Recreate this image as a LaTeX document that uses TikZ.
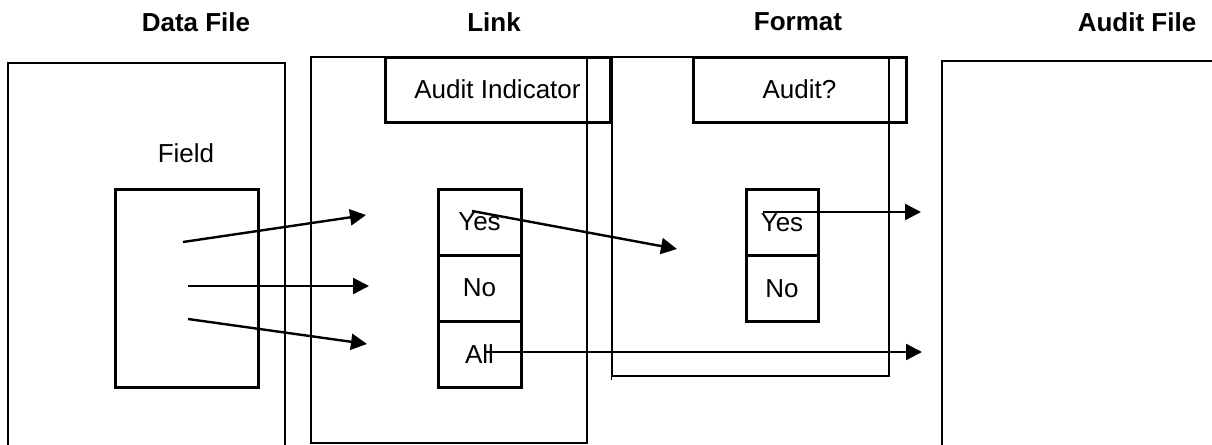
\documentclass[tikz,border=0pt]{standalone}
\usepackage{fontspec}
\setmainfont{Liberation Sans}
\usetikzlibrary{arrows.meta}
\begin{document}
\begin{tikzpicture}[x=0.5pt,y=-0.5pt,
  thin frame/.style={draw=black,line width=0.6pt},
  thick box/.style={draw=black,line width=1.5pt,inner sep=0pt},
  frame box/.style={draw=black,line width=0.6pt,inner sep=0pt},
  cell/.style={thick box,minimum width=41.5pt,minimum height=33pt,font=\fontsize{13}{15}\selectfont},
  fcell/.style={thick box,minimum width=36pt,minimum height=33pt,font=\fontsize{13}{15}\selectfont},
  label text/.style={font=\fontsize{13}{15}\selectfont,inner sep=0pt},
  title/.style={font=\fontsize{13}{15}\selectfont\bfseries,inner sep=0pt},
  arr/.style={line width=1.2pt,-{Triangle[length=8pt,width=8pt]}}]
\useasboundingbox (0,0) rectangle (1212,445);
% titles
\node[title] (tdata) at (196,22) {Data File};
\node[title] (tlink) at (494,22) {Link};
\node[title] (tformat) at (798,22) {Format};
\node[title] (taudit) at (1137,22) {Audit File};
% open frames
\draw[thin frame] (8,446) -- (8,63) -- (285,63) -- (285,446);
\draw[thin frame] (942,446) -- (942,61) -- (1213,61);
% link and format frames
\node[frame box,minimum width=138pt,minimum height=193pt] (linkframe) at (449,250) {};
\node[frame box,minimum width=138.5pt,minimum height=159.5pt] (formatframe) at (750.5,216.5) {};
\draw[thin frame] (formatframe.south west) -- ++(0,3);
% header boxes
\node[thick box,minimum width=112.5pt,minimum height=32.5pt,font=\fontsize{13}{15}\selectfont] (auditind) at (497.5,89.5) {Audit Indicator};
\node[thick box,minimum width=106.5pt,minimum height=32.5pt,font=\fontsize{13}{15}\selectfont] (auditq) at (799.5,89.5) {Audit?};
% field
\node[label text] (fieldlbl) at (186,153) {Field};
\node[thick box,minimum width=71.5pt,minimum height=99pt] (field) at (186.5,288) {};
% link cells
\node[cell] (lyes) at (479.5,222) {Yes};
\node[cell] (lno) at (479.5,288) {No};
\node[cell] (lall) at (479.5,354) {All};
% format cells
\node[fcell] (fyes) at (782,222.5) {Yes};
\node[fcell] (fno) at (782,288.5) {No};
% arrow coordinates
\coordinate (a1s) at (183,242);
\coordinate (a1e) at (366,215);
\coordinate (a2s) at (188,286);
\coordinate (a2e) at (369,286);
\coordinate (a3s) at (188,319);
\coordinate (a3e) at (367,344);
\coordinate (a4s) at (472,211);
\coordinate (a4e) at (677,249);
\coordinate (a5s) at (485,352);
\coordinate (a5e) at (922,352);
\coordinate (a6s) at (763,212);
\coordinate (a6e) at (921,212);
\draw[arr] (a1s) -- (a1e);
\draw[arr] (a2s) -- (a2e);
\draw[arr] (a3s) -- (a3e);
\draw[arr] (a4s) -- (a4e);
\draw[arr] (a5s) -- (a5e);
\draw[arr] (a6s) -- (a6e);
\end{tikzpicture}
\end{document}
